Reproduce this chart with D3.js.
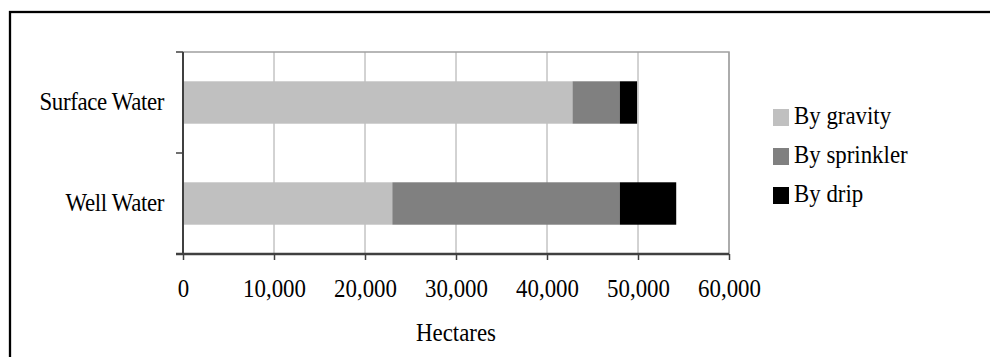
<!DOCTYPE html>
<html>
<head>
<meta charset="utf-8">
<script src="https://cdn.jsdelivr.net/npm/d3@7/dist/d3.min.js"></script>
<style>
  html, body { margin: 0; padding: 0; background: #fff; }
  svg { display: block; }
  text { font-family: "Liberation Serif", "Times New Roman", serif; fill: #000; }
</style>
</head>
<body>
<svg id="chart" width="990" height="357"></svg>
<script>
const categories = ["Surface Water", "Well Water"];
const seriesNames = ["By gravity", "By sprinkler", "By drip"];
const gravity = [42800, 23000];
const sprinkler = [5200, 25000];
const drip = [1900, 6200];
const xTicks = [0, 10000, 20000, 30000, 40000, 50000, 60000];
const xTitle = "Hectares";
const colors = ["#c0c0c0", "#808080", "#000000"];

(function () {
const svg = d3.select("#chart");
const FS = 26, SX = 0.88;

// outer frame (extends past right and bottom edge)
svg.append("rect").attr("x", 10).attr("y", 12).attr("width", 1000).attr("height", 400)
  .attr("fill", "none").attr("stroke", "#000").attr("stroke-width", 2.3);

const pL = 183, pR = 729, pT = 52, pB = 254;
const x = d3.scaleLinear().domain([0, 60000]).range([pL, pR]);
const y = d3.scaleBand().domain(categories).range([pT, pB]).paddingInner(0.58).paddingOuter(0.29);

// gridlines
svg.append("g").selectAll("line").data(xTicks.slice(1)).join("line")
  .attr("x1", d => x(d)).attr("x2", d => x(d)).attr("y1", pT).attr("y2", pB)
  .attr("stroke", "#a6a6a6").attr("stroke-width", 1);
// plot border top/right
svg.append("path").attr("d", `M${pL},${pT}H${pR}V${pB}`)
  .attr("fill", "none").attr("stroke", "#a0a0a0").attr("stroke-width", 1.5);

// stacked bars
const rows = categories.map((c, i) => ({ cat: c, "By gravity": gravity[i], "By sprinkler": sprinkler[i], "By drip": drip[i] }));
const stack = d3.stack().keys(seriesNames)(rows);
svg.append("g").selectAll("g").data(stack).join("g")
  .attr("fill", (d, i) => colors[i])
  .selectAll("rect").data(d => d).join("rect")
  .attr("x", d => x(d[0])).attr("width", d => x(d[1]) - x(d[0]))
  .attr("y", d => y(d.data.cat)).attr("height", y.bandwidth());

// y axis
const yAxis = svg.append("g").attr("transform", `translate(${pL},0)`);
yAxis.append("line").attr("x1", 0).attr("x2", 0).attr("y1", pT).attr("y2", pB)
  .attr("stroke", "#404040").attr("stroke-width", 2);
const yTickPos = [pT, (pT + pB) / 2, pB];
yAxis.selectAll("line.t").data(yTickPos).join("line").attr("class", "t")
  .attr("x1", -7).attr("x2", 0).attr("y1", d => d).attr("y2", d => d)
  .attr("stroke", "#404040").attr("stroke-width", 1.5);
yAxis.selectAll("text").data(categories).join("text")
  .attr("transform", d => `translate(-19,${y(d) + y.bandwidth() / 2 + 7}) scale(${SX},1)`)
  .attr("text-anchor", "end").attr("font-size", FS)
  .style("letter-spacing", "-0.4px")
  .text(d => d);

// x axis
const xAxis = d3.axisBottom(x).tickValues(xTicks).tickSize(6).tickPadding(19)
  .tickFormat(d3.format(","));
const gx = svg.append("g").attr("transform", `translate(0,${pB})`).call(xAxis);
gx.select(".domain").attr("stroke", "#404040").attr("stroke-width", 2.5).attr("d", `M${pL - 7},0H${pR}`);
gx.selectAll(".tick line").attr("stroke", "#404040").attr("stroke-width", 1.5);
gx.selectAll(".tick text").attr("font-size", FS).attr("font-family", "Liberation Serif")
  .attr("fill", "#000").attr("transform", `scale(${SX},1)`);

svg.append("text")
  .attr("transform", `translate(${(pL + pR) / 2},341) scale(${SX},1)`)
  .attr("text-anchor", "middle").attr("font-size", FS).text(xTitle);

// legend
const lg = svg.append("g").attr("transform", "translate(773,109)");
const items = lg.selectAll("g").data(seriesNames).join("g")
  .attr("transform", (d, i) => `translate(0,${i * 39})`);
items.append("rect").attr("width", 16).attr("height", 17).attr("fill", (d, i) => colors[i]);
items.append("text").attr("transform", `translate(21,15) scale(${SX},1)`)
  .attr("font-size", FS).text(d => d);
})();
</script>
</body>
</html>
